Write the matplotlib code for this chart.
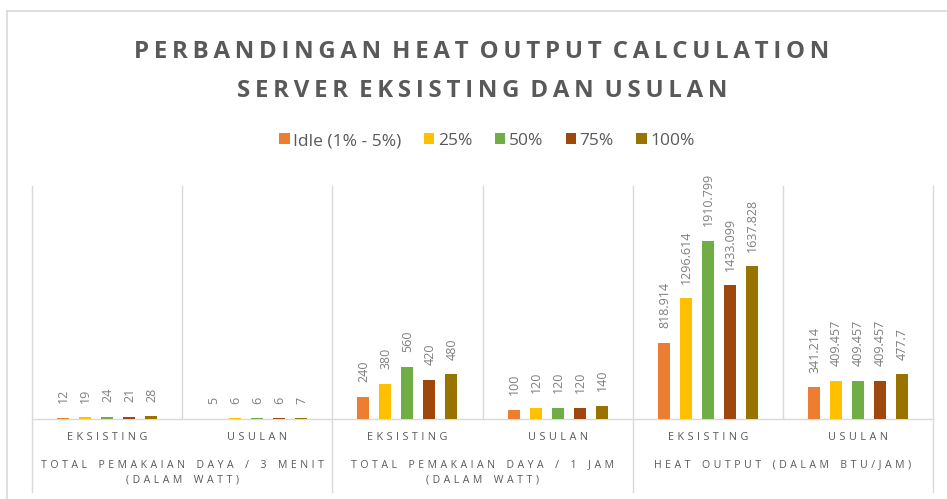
import matplotlib
matplotlib.use("Agg")
import matplotlib.pyplot as plt
from matplotlib.lines import Line2D
from matplotlib.patches import Patch
import matplotlib.transforms as mtransforms
import numpy as np

# ---------------- data ----------------
series_names = ["Idle (1% - 5%)", "25%", "50%", "75%", "100%"]
series_colors = ["#ED7D31", "#FFC000", "#70AD47", "#9E480E", "#997300"]
inner_labels = ["EKSISTING", "USULAN", "EKSISTING", "USULAN", "EKSISTING", "USULAN"]
outer_labels = ["TOTAL PEMAKAIAN DAYA / 3 MENIT\n(DALAM WATT)",
                "TOTAL PEMAKAIAN DAYA / 1 JAM\n(DALAM WATT)",
                "HEAT OUTPUT (DALAM BTU/JAM)"]
idle_vals = [12, 5, 240, 100, 818.914, 341.214]
p25_vals = [19, 6, 380, 120, 1296.614, 409.457]
p50_vals = [24, 6, 560, 120, 1910.799, 409.457]
p75_vals = [21, 6, 420, 120, 1433.099, 409.457]
p100_vals = [28, 7, 480, 140, 1637.828, 477.7]
label_text = [["12", "5", "240", "100", "818.914", "341.214"],
              ["19", "6", "380", "120", "1296.614", "409.457"],
              ["24", "6", "560", "120", "1910.799", "409.457"],
              ["21", "6", "420", "120", "1433.099", "409.457"],
              ["28", "7", "480", "140", "1637.828", "477.7"]]
title_lines = ["PERBANDINGAN HEAT OUTPUT CALCULATION", "SERVER EKSISTING DAN USULAN"]

all_series = [idle_vals, p25_vals, p50_vals, p75_vals, p100_vals]

FONT = ["Open Sans", "DejaVu Sans"]
GREY = "#595959"
LGREY = "#7F7F7F"
GRID = "#D9D9D9"

def spaced(s, sep="\u2009", wsep="\u2009\u2009 \u2009"):
    return wsep.join(sep.join(list(w)) for w in s.split(" "))

W, H = 947, 499
fig = plt.figure(figsize=(W / 100, H / 100), dpi=100)
ax_left, ax_right = 32, 933
ax_top, ax_bot = 186, 419
ax = fig.add_axes([ax_left / W, (H - ax_bot) / H, (ax_right - ax_left) / W, (ax_bot - ax_top) / H])
ax.set_xlim(0, 6)
ax.set_ylim(0, 2500)
ax.axis("off")

ngroups = len(inner_labels)
offsets = np.array([-0.293, -0.146, 0.0, 0.146, 0.293])
bar_w = 0.08
x = np.arange(ngroups) + 0.5
for i, vals in enumerate(all_series):
    xs = x + offsets[i]
    ax.bar(xs, vals, width=bar_w, color=series_colors[i], zorder=3, label=series_names[i])
    for j, v in enumerate(vals):
        ax.annotate(label_text[i][j], xy=(xs[j], v), xytext=(0.5, 10.5),
                    textcoords="offset points", rotation=90, ha="center", va="bottom",
                    fontsize=9, color=LGREY, family=FONT)

# baseline and separators
btrans = mtransforms.blended_transform_factory(ax.transData, ax.transAxes)
ax.add_line(Line2D([0, 6], [0, 0], transform=btrans, color=GRID, lw=1, zorder=2, clip_on=False))
axh = ax_bot - ax_top
for k in range(ngroups + 1):
    y0 = 0 if k % 2 == 1 else -73 / axh
    ax.add_line(Line2D([k, k], [y0, 1], transform=btrans, color=GRID, lw=1, zorder=1, clip_on=False))

# category labels
csep = "\u2009\u2009"
cwsep = "\u2009\u2009 \u2009\u2009\u2009"
for j, lab in enumerate(inner_labels):
    ax.annotate(spaced(lab, csep, cwsep), xy=(x[j], 0), xycoords=btrans, xytext=(0, -18 * 0.72),
                textcoords="offset points", ha="center", va="center",
                fontsize=7.8, color=GREY, family=FONT)
for g, lab in enumerate(outer_labels):
    lines = lab.split("\n")
    for li, ln in enumerate(lines):
        ax.annotate(spaced(ln, csep, cwsep), xy=(2 * g + 1, 0), xycoords=btrans,
                    xytext=(0, -(46 + 15 * li) * 0.72),
                    textcoords="offset points", ha="center", va="center",
                    fontsize=7.6, color=GREY, family=FONT)

# title
for li, t in enumerate(title_lines):
    fig.text(482 / W, 1 - (52 + 39 * li) / H, spaced(t, "\u2009", "\u200a \u200a"),
             ha="center", va="center", fontsize=17.3, fontweight="bold", color=GREY, family=FONT)

# legend
handles = [Patch(facecolor=c, edgecolor="none") for c in series_colors]
fig.legend(handles, series_names, loc="center", bbox_to_anchor=(487 / W, 1 - 141 / H), ncol=5,
           frameon=False, handlelength=0.6, handleheight=0.6, handletextpad=0.2,
           columnspacing=1.3, prop={"family": FONT, "size": 12.5}, labelcolor=GREY)

# chart border (top & left)
fig.add_artist(Line2D([7 / W, 1], [1 - 11 / H, 1 - 11 / H], transform=fig.transFigure, color=GRID, lw=1.2))
fig.add_artist(Line2D([7 / W, 7 / W], [0, 1 - 11 / H], transform=fig.transFigure, color=GRID, lw=1.2))

fig.savefig("out.png", dpi=100, facecolor="white")
